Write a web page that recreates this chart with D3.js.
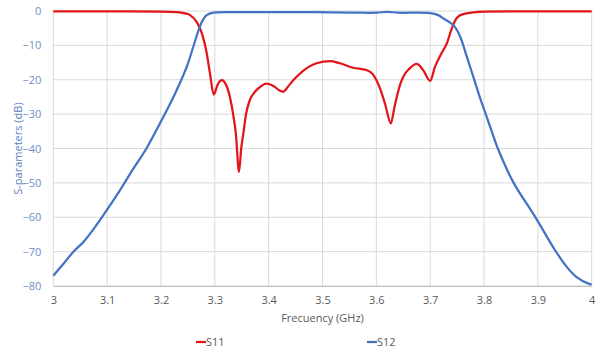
<!DOCTYPE html>
<html>
<head>
<meta charset="utf-8">
<script src="https://cdn.jsdelivr.net/npm/d3@7"></script>
<style>
	body { margin: 0; background: #fff; }
	text { font-family: "Open Sans", "Noto Sans", sans-serif; }
</style>
</head>
<body>
<div id="chart"></div>
<script>
var CHART_WIDTH = 600;
var CHART_HEIGHT = 355;

// S11 (reflection)
var s11Freq = [3.00, 3.10, 3.20, 3.23, 3.245, 3.254, 3.266, 3.276, 3.285, 3.291, 3.298,
	3.305, 3.313, 3.32, 3.328, 3.334, 3.339, 3.345, 3.349, 3.353, 3.358, 3.365, 3.373,
	3.381, 3.396, 3.409, 3.421, 3.427, 3.435, 3.446, 3.464, 3.489, 3.514, 3.532, 3.557,
	3.582, 3.593, 3.60, 3.608, 3.616, 3.627, 3.633, 3.638, 3.644, 3.65, 3.662, 3.675,
	3.687, 3.70, 3.709, 3.721, 3.731, 3.74, 3.749, 3.761, 3.78, 3.80, 3.90, 4.00];
var s11Db = [-0.1, -0.1, -0.15, -0.3, -0.7, -1.2, -3.1, -6.5, -12.3, -18.2, -24.3,
	-21.5, -20.1, -21.2, -25, -30, -35.6, -46.8, -40, -35.6, -30, -25.9, -23.8,
	-22.5, -21.1, -21.8, -23.2, -23.5, -22.2, -20.1, -17.4, -15.2, -14.6, -15.2, -16.5,
	-17.2, -18.3, -20.1, -23, -26.9, -32.7, -28.5, -25, -21.5, -19.1, -16.7, -15.4,
	-17.2, -20.3, -16.2, -12.3, -9.4, -5.1, -2.1, -0.9, -0.4, -0.2, -0.1, -0.1];

// S12 (transmission)
var s12Freq = [3.000, 3.019, 3.037, 3.056, 3.074, 3.099, 3.124, 3.149, 3.173, 3.198,
	3.217, 3.235, 3.248, 3.26, 3.272, 3.279, 3.285, 3.297, 3.35, 3.45, 3.55, 3.60,
	3.62, 3.64, 3.70, 3.715, 3.724, 3.743, 3.755, 3.768, 3.78, 3.792, 3.805, 3.82,
	3.827, 3.854, 3.895, 3.932, 3.954, 3.972, 3.994, 4.000];
var s12Db = [-77, -73.5, -70.1, -67.2, -63.6, -58, -52.1, -45.8, -40, -32.7,
	-27, -21, -16.2, -10.4, -4.6, -2.3, -1.2, -0.5, -0.35, -0.3, -0.45, -0.5,
	-0.25, -0.5, -0.6, -1.2, -2.1, -4.1, -7.2, -13.3, -19.1, -25, -30.8, -37.6,
	-40.5, -49.7, -59.9, -69.6, -74.5, -77.4, -79.3, -79.5];

var xTicks = [3, 3.1, 3.2, 3.3, 3.4, 3.5, 3.6, 3.7, 3.8, 3.9, 4];
var yTicks = [0, -10, -20, -30, -40, -50, -60, -70, -80];

var seriesNames = ["S11", "S12"];
var seriesColors = ["#e3151a", "#4472c4"];

var margin = { top: 11, right: 8.3, bottom: 69, left: 53.3 };
var plotWidth = CHART_WIDTH - margin.left - margin.right;
var plotHeight = CHART_HEIGHT - margin.top - margin.bottom;

var svg = d3.select("#chart")
	.append("svg")
	.attr("width", CHART_WIDTH)
	.attr("height", CHART_HEIGHT);

var inner = svg.append("g")
	.attr("transform", `translate(${margin.left},${margin.top})`);

var xScale = d3.scaleLinear().domain([3, 4]).range([0, plotWidth]);
var yScale = d3.scaleLinear().domain([-80, 0]).range([plotHeight, 0]);

// grid
inner.selectAll(".hgrid")
	.data(yTicks)
	.enter().append("line")
	.attr("x1", 0).attr("x2", plotWidth)
	.attr("y1", d => yScale(d)).attr("y2", d => yScale(d))
	.attr("stroke", "#d9d9d9")
	.attr("stroke-width", 1);

inner.selectAll(".vgrid")
	.data(xTicks)
	.enter().append("line")
	.attr("x1", d => xScale(d)).attr("x2", d => xScale(d))
	.attr("y1", 0).attr("y2", plotHeight)
	.attr("stroke", "#d9d9d9")
	.attr("stroke-width", 1);

// bottom axis
var xAxis = inner.append("g")
	.attr("transform", `translate(0,${plotHeight})`)
	.call(d3.axisBottom(xScale).tickValues(xTicks).tickSize(0).tickPadding(10).tickFormat(d3.format("")));
xAxis.select(".domain").attr("stroke", "#bfbfbf");
xAxis.selectAll("text").attr("fill", "#595959").style("font-size", "11px");

var yAxis = inner.append("g")
	.call(d3.axisLeft(yScale).tickValues(yTicks).tickSize(0).tickPadding(12));
yAxis.select(".domain").remove();
yAxis.selectAll("text").attr("fill", "#6f8ec4").style("font-size", "11px");

// titles
svg.append("text")
	.attr("x", margin.left + plotWidth / 2)
	.attr("y", 322)
	.attr("text-anchor", "middle")
	.attr("fill", "#595959")
	.style("font-size", "11px")
	.text("Frecuency (GHz)");

svg.append("text")
	.attr("transform", "rotate(-90)")
	.attr("x", -(margin.top + plotHeight / 2))
	.attr("y", 22)
	.attr("text-anchor", "middle")
	.attr("fill", "#5b7fc0")
	.style("font-size", "11px")
	.text("S-parameters (dB)");

// lines (S11 keeps sharp dips, S12 smoother skirts)
var curves = [d3.curveMonotoneX, d3.curveCatmullRom.alpha(0.5)];

var series = [
	d3.zip(s11Freq, s11Db),
	d3.zip(s12Freq, s12Db)
];

inner.selectAll(".series")
	.data(series)
	.enter().append("path")
	.attr("fill", "none")
	.attr("stroke", (d, i) => seriesColors[i])
	.attr("stroke-width", 2.25)
	.attr("stroke-linejoin", "round")
	.attr("d", (d, i) => d3.line()
		.x(p => xScale(p[0]))
		.y(p => yScale(p[1]))
		.curve(curves[i])(d));

// legend
var legendX = [196, 367];
var legend = svg.selectAll(".legend")
	.data(seriesNames)
	.enter().append("g")
	.attr("transform", (d, i) => `translate(${legendX[i]},342)`);

legend.append("line")
	.attr("x1", 0).attr("x2", 10)
	.attr("stroke", (d, i) => seriesColors[i])
	.attr("stroke-width", 2.25);

legend.append("text")
	.attr("x", 10)
	.attr("dy", "0.35em")
	.attr("fill", "#595959")
	.style("font-size", "11px")
	.text(d => d);
</script>
</body>
</html>
